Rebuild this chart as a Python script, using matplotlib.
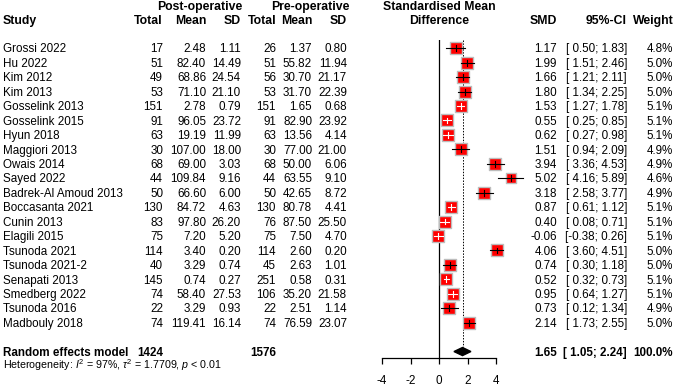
import numpy as np
import matplotlib
matplotlib.use("Agg")
import matplotlib.pyplot as plt
import matplotlib.transforms as mtransforms

plt.rcParams["font.family"] = ["Liberation Sans", "DejaVu Sans"]
plt.rcParams["mathtext.fontset"] = "custom"
plt.rcParams["mathtext.rm"] = "Liberation Sans"
plt.rcParams["mathtext.it"] = "Liberation Sans:italic"
plt.rcParams["axes.unicode_minus"] = False

studies = ["Grossi 2022", "Hu 2022", "Kim 2012", "Kim 2013", "Gosselink 2013",
           "Gosselink 2015", "Hyun 2018", "Maggiori 2013", "Owais 2014", "Sayed 2022",
           "Badrek-Al Amoud 2013", "Boccasanta 2021", "Cunin 2013", "Elagili 2015",
           "Tsunoda 2021", "Tsunoda 2021-2", "Senapati 2013", "Smedberg 2022",
           "Tsunoda 2016", "Madbouly 2018"]
post_n = [17, 51, 49, 53, 151, 91, 63, 30, 68, 44, 50, 130, 83, 75, 114, 40, 145, 74, 22, 74]
post_mean = [2.48, 82.40, 68.86, 71.10, 2.78, 96.05, 19.19, 107.00, 69.00, 109.84,
             66.60, 84.72, 97.80, 7.20, 3.40, 3.29, 0.74, 58.40, 3.29, 119.41]
post_sd = [1.11, 14.49, 24.54, 21.10, 0.79, 23.72, 11.99, 18.00, 3.03, 9.16,
           6.00, 4.63, 26.20, 5.20, 0.20, 0.74, 0.27, 27.53, 0.93, 16.14]
pre_n = [26, 51, 56, 53, 151, 91, 63, 30, 68, 44, 50, 130, 76, 75, 114, 45, 251, 106, 22, 74]
pre_mean = [1.37, 55.82, 30.70, 31.70, 1.65, 82.90, 13.56, 77.00, 50.00, 63.55,
            42.65, 80.78, 87.50, 7.50, 2.60, 2.63, 0.58, 35.20, 2.51, 76.59]
pre_sd = [0.80, 11.94, 21.17, 22.39, 0.68, 23.92, 4.14, 21.00, 6.06, 9.10,
          8.72, 4.41, 25.50, 4.70, 0.20, 1.01, 0.31, 21.58, 1.14, 23.07]
smd = [1.17, 1.99, 1.66, 1.80, 1.53, 0.55, 0.62, 1.51, 3.94, 5.02,
       3.18, 0.87, 0.40, -0.06, 4.06, 0.74, 0.52, 0.95, 0.73, 2.14]
ci_lo = [0.50, 1.51, 1.21, 1.34, 1.27, 0.25, 0.27, 0.94, 3.36, 4.16,
         2.58, 0.61, 0.08, -0.38, 3.60, 0.30, 0.32, 0.64, 0.12, 1.73]
ci_hi = [1.83, 2.46, 2.11, 2.25, 1.78, 0.85, 0.98, 2.09, 4.53, 5.89,
         3.77, 1.12, 0.71, 0.26, 4.51, 1.18, 0.73, 1.27, 1.34, 2.55]
weight = [4.8, 5.0, 5.0, 5.0, 5.1, 5.1, 5.1, 4.9, 4.9, 4.6,
          4.9, 5.1, 5.1, 5.1, 5.0, 5.0, 5.1, 5.1, 4.9, 5.0]
re_smd, re_lo, re_hi, re_weight = 1.65, 1.05, 2.24, 100.0
het_text = r"Heterogeneity: $I^2$ = 97%, $\tau^2$ = 1.7709, $p$ < 0.01"
x_ticks = [-4, -2, 0, 2, 4]

W, H = 676, 386
FS = 8.4
fig = plt.figure(figsize=(W / 100, H / 100), dpi=100)

# forest panel: -4..4 spans pixels 382..496, rows from y=40 to axis at y=358
row_px = 14.44
y_top = (40 - 48.3) / row_px
y_bot = (358 - 48.3) / row_px
ax = fig.add_axes([382 / W, 1 - 358 / H, 114 / W, 318 / H])
ax.set_xlim(-4, 4)
ax.set_ylim(y_bot, y_top)
for s in ["top", "right", "left"]:
    ax.spines[s].set_visible(False)
ax.spines["bottom"].set_linewidth(0.9)
ax.set_yticks([])
ax.set_xticks(x_ticks)
ax.tick_params(axis="x", length=4, width=0.9, pad=8, labelsize=FS)

n = len(studies)
rows = np.arange(n)
sum_row = n + 1

ax.axvline(0, color="black", lw=0.9)
ax.plot([re_smd, re_smd], [y_top, sum_row - 0.3], color="black", lw=0.7,
        ls=(0, (1.5, 1.5)))

px_per_unit = 114 / 8
for i in range(n):
    side_px = 11.5 * np.sqrt(weight[i] / 5.1)
    half = side_px / 2 / px_per_unit
    inside = (ci_lo[i] >= smd[i] - half) and (ci_hi[i] <= smd[i] + half)
    col = "white" if inside else "black"
    ax.scatter(smd[i], rows[i], marker="s", s=(side_px * 0.72) ** 2,
               color="#ff0000", edgecolor="#bdbdbd", linewidth=1.0,
               zorder=3, clip_on=False)
    ax.plot([ci_lo[i], ci_hi[i]], [rows[i], rows[i]], color=col, lw=0.8,
            zorder=4, clip_on=False)
    ax.plot([smd[i], smd[i]], [rows[i] - 0.2, rows[i] + 0.2], color=col,
            lw=0.8, zorder=4, clip_on=False)

ax.fill([re_lo, re_smd, re_hi, re_smd],
        [sum_row, sum_row - 0.28, sum_row, sum_row + 0.28],
        color="black", zorder=3)

# table text
tr = mtransforms.blended_transform_factory(fig.transFigure, ax.transData)
base = 0.29


def txt(xpx, row, s, ha="right", bold=False, size=FS):
    fig.text(xpx / W, row + base, s, transform=tr, ha=ha, va="baseline",
             fontsize=size, fontweight="bold" if bold else "normal")


hdr1 = (10 - 48.3) / row_px - base
hdr2 = (24 - 48.3) / row_px - base
txt(200, hdr1, "Post-operative", ha="center", bold=True, size=8.8)
txt(310, hdr1, "Pre-operative", ha="center", bold=True, size=8.8)
txt(439, hdr1, "Standardised Mean", ha="center", bold=True, size=8.8)
txt(3, hdr2, "Study", ha="left", bold=True, size=8.8)
txt(163, hdr2, "Total", bold=True, size=8.8)
txt(206, hdr2, "Mean", bold=True, size=8.8)
txt(241, hdr2, "SD", bold=True, size=8.8)
txt(276, hdr2, "Total", bold=True, size=8.8)
txt(312, hdr2, "Mean", bold=True, size=8.8)
txt(347, hdr2, "SD", bold=True, size=8.8)
txt(439, hdr2, "Difference", ha="center", bold=True, size=8.8)
txt(557, hdr2, "SMD", bold=True, size=8.8)
txt(627, hdr2, "95%-CI", bold=True, size=8.8)
txt(674, hdr2, "Weight", bold=True, size=8.8)

for i in range(n):
    r = rows[i]
    txt(3, r, studies[i], ha="left")
    txt(163, r, f"{post_n[i]}")
    txt(206, r, f"{post_mean[i]:.2f}")
    txt(241, r, f"{post_sd[i]:.2f}")
    txt(276, r, f"{pre_n[i]}")
    txt(312, r, f"{pre_mean[i]:.2f}")
    txt(347, r, f"{pre_sd[i]:.2f}")
    txt(557, r, f"{smd[i]:.2f}")
    txt(627, r, f"[{ci_lo[i]:5.2f}; {ci_hi[i]:.2f}]")
    txt(673, r, f"{weight[i]:.1f}%")

txt(3, sum_row, "Random effects model", ha="left", bold=True)
txt(163, sum_row, f"{sum(post_n)}", bold=True)
txt(276, sum_row, f"{sum(pre_n)}", bold=True)
txt(557, sum_row, f"{re_smd:.2f}", bold=True)
txt(627, sum_row, f"[{re_lo:5.2f}; {re_hi:.2f}]", bold=True)
txt(673, sum_row, f"{re_weight:.1f}%", bold=True)
txt(3, (369 - 48.3) / row_px - base, het_text, ha="left", size=7.7)

fig.savefig("out.png", dpi=100)
